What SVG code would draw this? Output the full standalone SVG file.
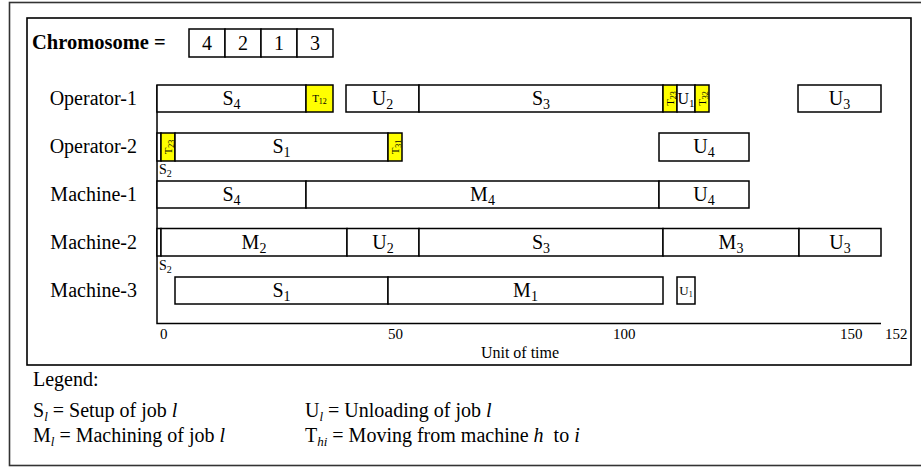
<svg xmlns="http://www.w3.org/2000/svg" width="921" height="468" viewBox="0 0 921 468">
<style>
text{font-family:"Liberation Serif","Times New Roman",serif;fill:#000}
.frame{fill:none;stroke:#333;stroke-width:1.6}
.inner{fill:none;stroke:#000;stroke-width:1.6}
.bar{fill:#fff;stroke:#000;stroke-width:1.5}
.tr{fill:#ffff00;stroke:#000;stroke-width:1.5}
.lbl{font-size:20px;text-anchor:end}
.bl{font-size:20px;text-anchor:middle}
.sub{font-size:14px}
.tt{font-size:11px;text-anchor:middle}
.ts{font-size:8px}
.tick{font-size:15px}
.leg{font-size:20px}
.lsub{font-size:13px}
.axis{stroke:#000;stroke-width:1.5;fill:none}
</style>
<rect class="frame" x="9.5" y="2.5" width="914" height="463"/>
<rect class="inner" x="27" y="18" width="884" height="347"/>

<g id="chromosome">
<text x="32" y="49" style="font-size:20.5px;font-weight:bold">Chromosome =</text>
<rect class="bar" x="189" y="29" width="36" height="28"/>
<rect class="bar" x="225" y="29" width="36" height="28"/>
<rect class="bar" x="261" y="29" width="36" height="28"/>
<rect class="bar" x="297" y="29" width="36" height="28"/>
<text class="bl" x="207" y="50">4</text>
<text class="bl" x="243" y="50">2</text>
<text class="bl" x="279" y="50">1</text>
<text class="bl" x="315" y="50">3</text>
</g>

<g id="axes">
<path class="axis" d="M157 85 V323.5 H881"/>
<text class="tick" x="160" y="339">0</text>
<text class="tick" x="388" y="339">50</text>
<text class="tick" x="613" y="339">100</text>
<text class="tick" x="840" y="339">150</text>
<text class="tick" x="885" y="339">152</text>
<text x="520" y="358" style="font-size:16px;text-anchor:middle">Unit of time</text>
</g>

<g id="operator-1">
<text class="lbl" x="137" y="105">Operator-1</text>
<rect class="bar" x="157" y="85" width="149" height="27"/>
<text class="bl" x="231.5" y="105">S<tspan class="sub" dy="4">4</tspan></text>
<rect class="tr" x="306" y="85" width="27" height="27"/>
<text class="tt" x="319.5" y="102">T<tspan class="ts" dy="2">12</tspan></text>
<rect class="bar" x="346" y="85" width="73" height="27"/>
<text class="bl" x="382.5" y="105">U<tspan class="sub" dy="4">2</tspan></text>
<rect class="bar" x="419" y="85" width="244" height="27"/>
<text class="bl" x="541" y="105">S<tspan class="sub" dy="4">3</tspan></text>
<rect class="tr" x="663" y="85" width="14" height="27"/>
<text class="tt" transform="translate(674 98.5) rotate(-90)">T<tspan class="ts" dy="2">23</tspan></text>
<rect class="bar" x="677" y="85" width="18" height="27"/>
<text x="686" y="104" style="font-size:16px;text-anchor:middle">U<tspan style="font-size:11px" dy="3">1</tspan></text>
<rect class="tr" x="695" y="85" width="14" height="27"/>
<text class="tt" transform="translate(706 98.5) rotate(-90)">T<tspan class="ts" dy="2">32</tspan></text>
<rect class="bar" x="798" y="85" width="83" height="27"/>
<text class="bl" x="839.5" y="105">U<tspan class="sub" dy="4">3</tspan></text>
</g>

<g id="operator-2">
<text class="lbl" x="137" y="153">Operator-2</text>
<rect class="bar" x="157" y="133" width="4" height="28"/>
<rect class="tr" x="161" y="133" width="14" height="28"/>
<text class="tt" transform="translate(172 147) rotate(-90)">T<tspan class="ts" dy="2">23</tspan></text>
<rect class="bar" x="175" y="133" width="213" height="28"/>
<text class="bl" x="281.5" y="153">S<tspan class="sub" dy="4">1</tspan></text>
<rect class="tr" x="388" y="133" width="14" height="28"/>
<text class="tt" transform="translate(399 147) rotate(-90)">T<tspan class="ts" dy="2">31</tspan></text>
<rect class="bar" x="659" y="133" width="90" height="28"/>
<text class="bl" x="704" y="153">U<tspan class="sub" dy="4">4</tspan></text>
<text x="159" y="174" style="font-size:14px">S<tspan style="font-size:10px" dy="3">2</tspan></text>
</g>

<g id="machine-1">
<text class="lbl" x="137" y="201">Machine-1</text>
<rect class="bar" x="157" y="181" width="149" height="27"/>
<text class="bl" x="231.5" y="201">S<tspan class="sub" dy="4">4</tspan></text>
<rect class="bar" x="306" y="181" width="353" height="27"/>
<text class="bl" x="482.5" y="201">M<tspan class="sub" dy="4">4</tspan></text>
<rect class="bar" x="659" y="181" width="90" height="27"/>
<text class="bl" x="704" y="201">U<tspan class="sub" dy="4">4</tspan></text>
</g>

<g id="machine-2">
<text class="lbl" x="137" y="249">Machine-2</text>
<rect class="bar" x="157" y="228.5" width="4" height="27.5"/>
<rect class="bar" x="161" y="228.5" width="186" height="27.5"/>
<text class="bl" x="254" y="249">M<tspan class="sub" dy="4">2</tspan></text>
<rect class="bar" x="347" y="228.5" width="72" height="27.5"/>
<text class="bl" x="383" y="249">U<tspan class="sub" dy="4">2</tspan></text>
<rect class="bar" x="419" y="228.5" width="244" height="27.5"/>
<text class="bl" x="541" y="249">S<tspan class="sub" dy="4">3</tspan></text>
<rect class="bar" x="663" y="228.5" width="136" height="27.5"/>
<text class="bl" x="731" y="249">M<tspan class="sub" dy="4">3</tspan></text>
<rect class="bar" x="799" y="228.5" width="82" height="27.5"/>
<text class="bl" x="840" y="249">U<tspan class="sub" dy="4">3</tspan></text>
<text x="159" y="270" style="font-size:14px">S<tspan style="font-size:10px" dy="3">2</tspan></text>
</g>

<g id="machine-3">
<text class="lbl" x="137" y="297">Machine-3</text>
<rect class="bar" x="175" y="277" width="213" height="27"/>
<text class="bl" x="281.5" y="297">S<tspan class="sub" dy="4">1</tspan></text>
<rect class="bar" x="388" y="277" width="275" height="27"/>
<text class="bl" x="525.5" y="297">M<tspan class="sub" dy="4">1</tspan></text>
<rect class="bar" x="677" y="277" width="18" height="27"/>
<text x="686" y="295" style="font-size:13px;text-anchor:middle">U<tspan style="font-size:8px" dy="2">1</tspan></text>
</g>

<g id="legend">
<text class="leg" x="33" y="386">Legend:</text>
<text class="leg" x="33" y="417">S<tspan class="lsub" font-style="italic" dy="4">l</tspan><tspan dy="-4"> = Setup of job </tspan><tspan font-style="italic">l</tspan></text>
<text class="leg" x="33" y="442">M<tspan class="lsub" font-style="italic" dy="4">l</tspan><tspan dy="-4"> = Machining of job </tspan><tspan font-style="italic">l</tspan></text>
<text class="leg" x="305" y="417">U<tspan class="lsub" font-style="italic" dy="4">l</tspan><tspan dy="-4"> = Unloading of job </tspan><tspan font-style="italic">l</tspan></text>
<text class="leg" x="305" y="442">T<tspan class="lsub" font-style="italic" dy="4">hi</tspan><tspan dy="-4"> = Moving from machine </tspan><tspan font-style="italic">h</tspan><tspan>&#160; to </tspan><tspan font-style="italic">i</tspan></text>
</g>
</svg>
